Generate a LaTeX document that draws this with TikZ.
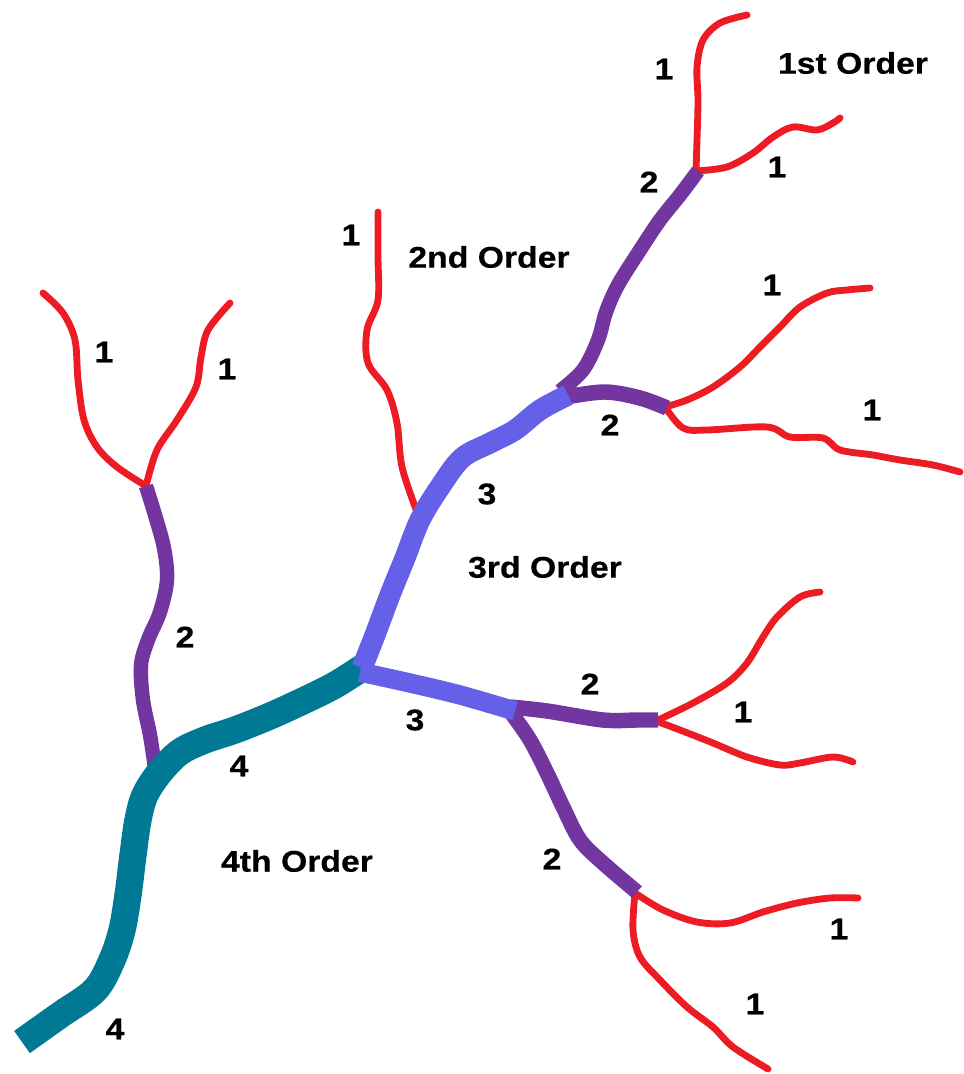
\documentclass[tikz,border=0pt]{standalone}
\usepackage{fontspec}
\setmainfont{Liberation Sans}[FakeStretch=1.13, BoldFeatures={FakeBold=0.5}]
\definecolor{rivred}{HTML}{ED1C24}
\definecolor{rivpurple}{HTML}{7335A0}
\definecolor{rivblue}{HTML}{6461E8}
\definecolor{rivteal}{HTML}{007A94}
\tikzset{
  lab/.style={font=\fontsize{17}{20}\selectfont\bfseries, text=black, inner sep=0pt},
  ord1/.style={draw=rivred, line width=3.9pt, line cap=round, line join=round},
  ord2/.style={draw=rivpurple, line width=8.2pt, line cap=butt, line join=round},
  ord3/.style={draw=rivblue, line width=12pt, line cap=butt, line join=round},
  ord4/.style={draw=rivteal, line width=15.5pt, line cap=butt, line join=round},
  sm/.style={smooth, tension=0.55}
}
\begin{document}
\begin{tikzpicture}[x=0.02cm, y=-0.02cm]
\useasboundingbox (0,0) rectangle (963,1074);
% junctions
\coordinate (jA) at (362,666);
\coordinate (jB) at (155,766);
\coordinate (jC) at (565,393);
\coordinate (jD) at (512,710);
\coordinate (jE) at (417,512);
\coordinate (jL) at (146,486);
\coordinate (jT) at (696,171);
\coordinate (jH) at (665,407);
\coordinate (jR) at (656,721);
\coordinate (jS) at (635,893);

% ---- 1st order (red)
\draw[ord1] plot[sm] coordinates {(146,486) (117,467) (97,447) (84,420) (78,380) (75,340) (63,313) (43,293)};
\draw[ord1] plot[sm] coordinates {(146,486) (157,450) (177,420) (196,387) (201,357) (208,330) (230,303)};
\draw[ord1] plot[sm] coordinates {(417,512) (402,467) (397,423) (387,390) (368,363) (367,330) (378,300) (378,257) (378,212)};
\draw[ord1] plot[sm] coordinates {(696,171) (697,140) (698,100) (697,67) (703,40) (720,23) (747,15)};
\draw[ord1] plot[sm] coordinates {(696,171) (727,167) (753,153) (773,137) (793,127) (817,130) (833,123) (840,118)};
\draw[ord1] plot[sm] coordinates {(665,407) (687,400) (713,387) (740,367) (760,347) (780,327) (800,307) (827,293) (847,290) (870,288)};
\draw[ord1] plot[sm] coordinates {(665,407) (683,428) (707,430) (767,427) (790,437) (823,438) (840,450) (873,455) (900,460) (933,465) (960,472)};
\draw[ord1] plot[sm] coordinates {(656,721) (693,703) (727,683) (747,663) (763,637) (777,617) (800,597) (820,592)};
\draw[ord1] plot[sm] coordinates {(656,721) (680,730) (713,743) (747,757) (780,765) (800,763) (833,757) (853,762)};
\draw[ord1] plot[sm] coordinates {(635,893) (663,910) (697,922) (730,923) (763,912) (797,903) (830,898) (858,898)};
\draw[ord1] plot[sm] coordinates {(635,893) (633,930) (640,957) (660,980) (687,1007) (713,1027) (733,1047) (768,1069)};

% ---- 2nd order (purple)
\draw[ord2] plot[sm] coordinates {(155,768) (150,735) (143,700) (141,665) (148,640) (160,612) (167,580) (164,548) (155,515) (146,486)};
\draw[ord2] plot[sm] coordinates {(560,391) (583,370) (598,340) (606,312) (618,285) (640,250) (660,220) (680,195) (698,171)};
\draw[ord2, line width=8.8pt] plot[sm] coordinates {(566,397) (605,392) (640,398) (667,408)};
\draw[ord2, line width=8.8pt] plot[sm] coordinates {(510,707) (547,711) (603,720) (637,720) (658,720)};
\draw[ord2, line width=8.6pt] plot[sm] coordinates {(512,714) (530,740) (547,773) (563,807) (580,840) (603,863) (637,892)};

% ---- 4th order (teal)
\draw[ord4] plot[sm] coordinates {(22,1042) (60,1015) (95,990) (112,960) (122,930) (128,895) (133,855) (138,820) (145,795) (160,772) (180,752) (205,740) (235,730) (270,716) (305,700) (335,685) (365,666)};

% ---- 3rd order (blue)
\draw[ord3] plot[sm] coordinates {(362,668) (375,635) (390,595) (405,558) (420,520) (440,487) (462,458) (490,443) (515,430) (540,410) (568,395)};
\draw[ord3, line width=11pt] plot[sm] coordinates {(360,672) (410,683) (460,695) (515,711)};

% ---- labels
\node[lab] (t1) at (853,63) {1st Order};
\node[lab] (t2) at (489,257) {2nd Order};
\node[lab] (t3) at (545,567) {3rd Order};
\node[lab] (t4) at (297,861) {4th Order};

\node[lab] (a1) at (664,69) {1};
\node[lab] (a2) at (777,167) {1};
\node[lab] (a3) at (649,182) {2};
\node[lab] (a4) at (351,235) {1};
\node[lab] (a5) at (772,285) {1};
\node[lab] (a6) at (872,410) {1};
\node[lab] (a7) at (610,425) {2};
\node[lab] (a8) at (487,494) {3};
\node[lab] (a9) at (104,352) {1};
\node[lab] (a10) at (227,369) {1};
\node[lab] (a11) at (185,637) {2};
\node[lab] (a12) at (590,684) {2};
\node[lab] (a13) at (743,712) {1};
\node[lab] (a14) at (415,720) {3};
\node[lab] (a15) at (239,766) {4};
\node[lab] (a16) at (552,859) {2};
\node[lab] (a17) at (839,929) {1};
\node[lab] (a18) at (755,1004) {1};
\node[lab] (a19) at (115,1029) {4};
\end{tikzpicture}
\end{document}
